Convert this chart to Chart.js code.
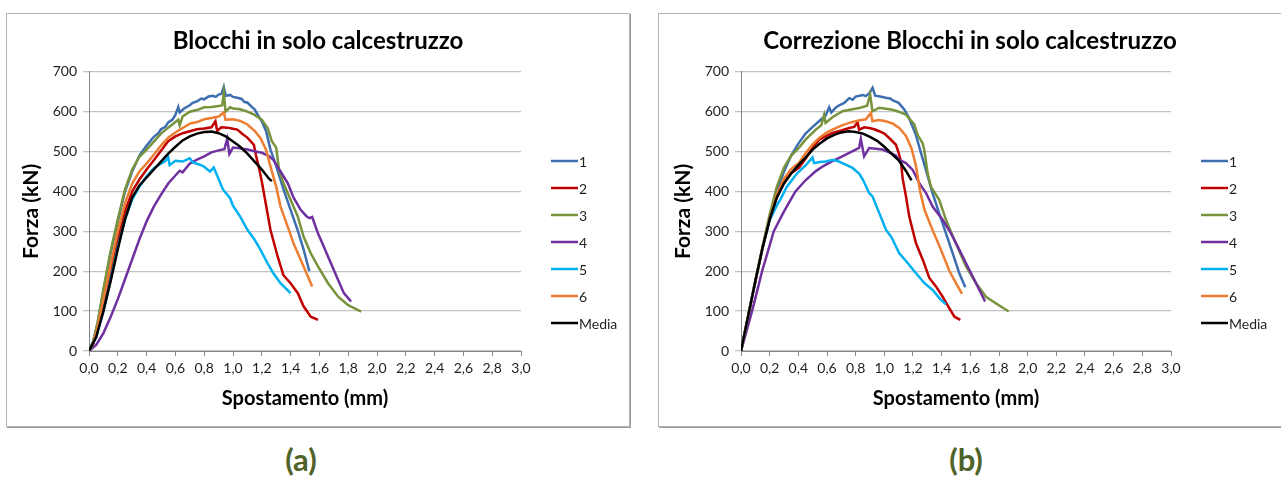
<!DOCTYPE html>
<html>
<head>
<meta charset="utf-8">
<script src="https://cdn.jsdelivr.net/npm/chart.js@4.4.0/dist/chart.umd.min.js"></script>
<style>
body { margin:0; background:#fff; width:1281px; height:480px; overflow:hidden; position:relative; font-family:Lato, sans-serif; }
.panel { position:absolute; top:13px; width:622px; height:412px; border:1px solid #b4b4b4; box-shadow:1px 1px 0 #9a9a9a; background:#fff; }
#pa { left:6px; }
#pb { left:658px; }
.panel canvas { display:block; }
.tag { position:absolute; top:440px; font-weight:bold; font-size:31px; font-family:Lato, sans-serif; color:#4f6228; transform:translateX(-50%); }
</style>
</head>
<body>
<div class="panel" id="pa"><canvas id="chartA" width="622" height="412"></canvas></div>
<div class="panel" id="pb"><canvas id="chartB" width="622" height="412"></canvas></div>
<div class="tag" style="left:301px">(a)</div>
<div class="tag" style="left:966px">(b)</div>
<script>
// series names and colours
var names = ["1", "2", "3", "4", "5", "6", "Media"];
var colors = ["#3d6eb0", "#c00000", "#77933c", "#7030a0", "#00b0f0", "#ed7d31", "#000000"];

// x ticks 0,0 .. 3,0 mm, y ticks 0 .. 700 kN
var xMax = 3, xStep = 0.2;
var yMax = 700, yStep = 100;

// (a) raw curves: [spostamento mm, forza kN]
var a1 = [[0,0],[0.03,25],[0.06,70],[0.1,150],[0.15,245],[0.2,325],[0.25,400],[0.3,450],[0.35,490],[0.4,515],[0.45,537],[0.48,545],[0.5,556],[0.53,562],[0.55,573],[0.58,580],[0.6,592],[0.62,612],[0.63,598],[0.66,608],[0.7,616],[0.72,622],[0.75,626],[0.78,633],[0.8,631],[0.83,638],[0.86,640],[0.88,637],[0.9,643],[0.92,645],[0.936,662],[0.95,640],[0.98,642],[1.0,637],[1.03,635],[1.06,632],[1.08,624],[1.1,623],[1.13,612],[1.15,606],[1.17,593],[1.2,576],[1.23,551],[1.26,505],[1.29,475],[1.31,452],[1.35,406],[1.4,354],[1.45,302],[1.49,255],[1.53,200]];
var a2 = [[0,0],[0.03,18],[0.06,55],[0.1,120],[0.15,200],[0.2,280],[0.25,350],[0.3,400],[0.35,430],[0.4,455],[0.45,478],[0.5,502],[0.55,526],[0.6,538],[0.65,546],[0.7,551],[0.75,556],[0.8,558],[0.85,561],[0.878,576],[0.89,552],[0.92,561],[0.96,560],[1.0,557],[1.03,555],[1.07,543],[1.1,535],[1.145,517],[1.16,490],[1.18,460],[1.2,425],[1.22,385],[1.26,304],[1.31,237],[1.35,190],[1.4,170],[1.45,145],[1.49,112],[1.54,86],[1.59,78]];
var a3 = [[0,0],[0.03,25],[0.06,72],[0.1,155],[0.15,250],[0.2,330],[0.25,405],[0.3,455],[0.35,487],[0.4,505],[0.45,525],[0.5,545],[0.55,560],[0.6,574],[0.62,580],[0.63,566],[0.65,588],[0.7,600],[0.75,604],[0.8,611],[0.85,612],[0.9,614],[0.925,616],[0.936,647],[0.948,600],[0.98,611],[1.0,608],[1.05,606],[1.1,600],[1.15,592],[1.2,580],[1.24,559],[1.27,526],[1.3,510],[1.32,454],[1.35,421],[1.4,379],[1.45,337],[1.49,287],[1.54,245],[1.59,212],[1.66,170],[1.73,136],[1.8,115],[1.89,99]];
var a4 = [[0,0],[0.05,15],[0.1,45],[0.15,85],[0.2,130],[0.25,180],[0.3,230],[0.35,280],[0.4,325],[0.45,362],[0.5,392],[0.55,420],[0.6,440],[0.63,452],[0.65,448],[0.7,470],[0.75,480],[0.8,488],[0.85,498],[0.9,503],[0.94,506],[0.96,532],[0.975,494],[1.0,510],[1.05,508],[1.1,505],[1.15,501],[1.2,497],[1.25,489],[1.28,479],[1.33,450],[1.38,421],[1.42,385],[1.47,354],[1.51,338],[1.53,333],[1.55,336],[1.59,295],[1.63,262],[1.68,220],[1.73,178],[1.77,145],[1.82,124]];
var a5 = [[0,0],[0.05,35],[0.1,100],[0.15,180],[0.2,260],[0.25,330],[0.3,380],[0.35,412],[0.4,438],[0.45,458],[0.5,470],[0.53,476],[0.55,486],[0.56,466],[0.6,477],[0.65,475],[0.7,483],[0.72,473],[0.77,467],[0.8,462],[0.84,450],[0.866,460],[0.89,440],[0.93,405],[0.98,383],[1.0,364],[1.05,337],[1.1,304],[1.15,279],[1.19,254],[1.24,220],[1.28,195],[1.33,170],[1.4,145]];
var a6 = [[0,0],[0.03,20],[0.06,60],[0.1,130],[0.15,215],[0.2,300],[0.25,370],[0.3,420],[0.35,450],[0.4,470],[0.45,492],[0.5,515],[0.55,535],[0.6,548],[0.65,559],[0.7,570],[0.75,574],[0.8,581],[0.85,584],[0.9,588],[0.936,598],[0.948,580],[1.0,581],[1.05,577],[1.1,568],[1.15,552],[1.19,534],[1.23,504],[1.26,463],[1.3,412],[1.33,362],[1.38,312],[1.42,270],[1.47,229],[1.52,187],[1.55,162]];
var a7 = [[0,0],[0.05,35],[0.1,100],[0.15,175],[0.2,255],[0.25,330],[0.3,385],[0.35,415],[0.4,435],[0.45,455],[0.5,475],[0.55,495],[0.6,512],[0.65,528],[0.7,538],[0.75,545],[0.8,549],[0.85,550],[0.9,546],[0.95,538],[1.0,525],[1.05,512],[1.1,495],[1.15,475],[1.2,455],[1.25,432],[1.27,426]];

// (b) corrected curves, linear initial branch
var b1 = [[0,0],[0.05,88],[0.1,175],[0.15,258],[0.2,335],[0.25,400],[0.3,450],[0.35,490],[0.4,520],[0.45,545],[0.5,562],[0.55,578],[0.59,590],[0.615,611],[0.63,598],[0.66,610],[0.685,616],[0.72,622],[0.755,634],[0.78,630],[0.8,638],[0.85,642],[0.87,639],[0.895,646],[0.918,660],[0.936,640],[0.97,638],[1.01,635],[1.04,633],[1.06,628],[1.1,622],[1.14,605],[1.17,586],[1.22,542],[1.256,496],[1.29,454],[1.337,395],[1.383,345],[1.43,295],[1.477,245],[1.523,195],[1.565,160]];
var b2 = [[0,0],[0.05,88],[0.1,175],[0.15,258],[0.2,330],[0.25,385],[0.3,425],[0.35,446],[0.405,460],[0.45,482],[0.5,510],[0.545,530],[0.6,540],[0.638,547],[0.7,553],[0.755,559],[0.79,562],[0.813,573],[0.824,555],[0.86,561],[0.894,559],[0.93,556],[0.964,551],[1.0,545],[1.034,534],[1.081,517],[1.1,497],[1.116,475],[1.128,432],[1.15,390],[1.174,337],[1.221,270],[1.268,229],[1.314,183],[1.36,162],[1.407,136],[1.454,107],[1.489,86],[1.53,78]];
var b3 = [[0,0],[0.05,88],[0.1,176],[0.15,262],[0.2,342],[0.25,412],[0.3,460],[0.35,490],[0.405,510],[0.45,530],[0.522,555],[0.56,566],[0.58,592],[0.59,572],[0.638,586],[0.708,601],[0.76,605],[0.824,609],[0.88,615],[0.901,643],[0.917,601],[0.964,610],[1.0,608],[1.057,605],[1.1,600],[1.15,593],[1.209,568],[1.232,542],[1.267,521],[1.279,504],[1.302,446],[1.325,412],[1.383,379],[1.43,329],[1.488,279],[1.57,212],[1.64,170],[1.709,136],[1.78,119],[1.868,99]];
var b4 = [[0,0],[0.05,65],[0.077,100],[0.1,132],[0.147,200],[0.2,265],[0.228,300],[0.3,350],[0.38,400],[0.45,428],[0.522,451],[0.58,465],[0.638,476],[0.7,487],[0.755,497],[0.8,505],[0.824,509],[0.836,532],[0.859,488],[0.894,509],[0.94,507],[0.987,505],[1.034,498],[1.08,490],[1.104,479],[1.151,471],[1.198,454],[1.244,421],[1.291,396],[1.337,362],[1.407,329],[1.465,295],[1.523,254],[1.57,220],[1.616,187],[1.663,153],[1.703,124]];
var b5 = [[0,0],[0.05,88],[0.1,175],[0.15,258],[0.2,328],[0.25,365],[0.275,380],[0.32,412],[0.39,445],[0.452,466],[0.499,485],[0.51,471],[0.55,474],[0.591,475],[0.638,479],[0.67,477],[0.708,471],[0.778,459],[0.824,445],[0.85,430],[0.894,396],[0.917,388],[0.96,350],[1.011,304],[1.05,285],[1.104,245],[1.16,222],[1.221,195],[1.28,170],[1.337,153],[1.39,130],[1.43,117]];
var b6 = [[0,0],[0.05,88],[0.1,175],[0.15,258],[0.2,332],[0.25,392],[0.3,432],[0.35,456],[0.405,472],[0.45,496],[0.5,518],[0.545,534],[0.6,548],[0.638,555],[0.7,565],[0.755,572],[0.82,578],[0.871,581],[0.906,597],[0.917,576],[0.96,579],[1.01,576],[1.06,570],[1.104,559],[1.15,540],[1.19,508],[1.22,465],[1.25,400],[1.28,354],[1.34,300],[1.39,258],[1.455,200],[1.5,170],[1.542,143]];
var b7 = [[0,0],[0.05,88],[0.1,175],[0.15,258],[0.2,330],[0.25,385],[0.3,420],[0.35,445],[0.4,466],[0.45,485],[0.5,505],[0.55,520],[0.6,533],[0.65,542],[0.7,548],[0.75,551],[0.8,549],[0.85,545],[0.9,537],[0.95,527],[1.0,512],[1.05,495],[1.1,478],[1.15,452],[1.19,428]];

Chart.defaults.font.family = "Lato, sans-serif";
Chart.defaults.color = "#1f1f1f";

// legend on the right: short line + name, drawn after the chart
var sideLegend = {
    id: "sideLegend",
    afterDraw: function(chart) {
        var ctx = chart.ctx;
        var area = chart.chartArea;
        ctx.save();
        ctx.font = "14px Lato, sans-serif";
        ctx.textBaseline = "middle";
        chart.data.datasets.forEach(function(ds, i) {
            var y = 147 + i * 27;
            ctx.strokeStyle = ds.borderColor;
            ctx.lineWidth = 2.5;
            ctx.beginPath();
            ctx.moveTo(area.right + 30, y);
            ctx.lineTo(area.right + 57, y);
            ctx.stroke();
            ctx.fillStyle = "#1f1f1f";
            ctx.fillText(ds.label, area.right + 58, y + 1);
        });
        ctx.restore();
    }
};

function makeChart(id, title, curves, legendWidth) {
    var datasets = [];
    for (i = 0; i < curves.length; i++) {
        datasets.push({
            label: names[i],
            data: curves[i].map(function(p) { return {x: p[0], y: p[1]}; }),
            borderColor: colors[i],
            backgroundColor: colors[i],
            borderWidth: 2.5,
            pointRadius: 0,
            showLine: true,
            tension: 0,
            order: curves.length - i   // later series on top, Media last
        });
    }
    return new Chart(document.getElementById(id), {
        type: "scatter",
        data: { datasets: datasets },
        plugins: [sideLegend],
        options: {
            responsive: false,
            animation: false,
            layout: { padding: { left: 0, right: 0, top: 0, bottom: 11 } },
            plugins: {
                legend: { display: false },
                tooltip: { enabled: false },
                title: {
                    display: true,
                    text: title,
                    color: "#000",
                    font: { size: 24, weight: "bold" },
                    padding: { top: 13, bottom: 16 }
                }
            },
            scales: {
                x: {
                    type: "linear",
                    min: 0,
                    max: xMax,
                    afterFit: function(s) { s.height = 64; },
                    ticks: {
                        stepSize: xStep,
                        autoSkip: false,
                        maxRotation: 0,
                        padding: 4,
                        font: { size: 14 },
                        callback: function(v) { return (Math.round(v * 10) / 10).toFixed(1).replace(".", ","); }
                    },
                    grid: { drawOnChartArea: false, drawTicks: true, tickLength: 5, color: "#868686" },
                    border: { color: "#868686" },
                    title: {
                        display: true,
                        text: "Spostamento (mm)",
                        color: "#000",
                        font: { size: 20, weight: "bold" },
                        padding: { top: 6 }
                    }
                },
                y: {
                    min: 0,
                    max: yMax,
                    afterFit: function(s) { s.width = 82; },
                    ticks: { stepSize: yStep, padding: 6, font: { size: 14 } },
                    grid: { color: "#c4c4c4", lineWidth: 1.3, tickLength: 6 },
                    border: { color: "#868686" },
                    title: {
                        display: true,
                        text: "Forza (kN)",
                        color: "#000",
                        font: { size: 21, weight: "bold" },
                        padding: { top: 12 }
                    }
                },
                // empty strip on the right that holds the legend
                side: {
                    position: "right",
                    min: 0,
                    max: yMax,
                    afterFit: function(s) { s.width = legendWidth; },
                    ticks: { display: false },
                    grid: { display: false },
                    border: { display: false }
                }
            }
        }
    });
}

var chartA = makeChart("chartA", "Blocchi in solo calcestruzzo", [a1, a2, a3, a4, a5, a6, a7], 108);
var chartB = makeChart("chartB", "Correzione Blocchi in solo calcestruzzo", [b1, b2, b3, b4, b5, b6, b7], 110);
</script>
</body>
</html>
